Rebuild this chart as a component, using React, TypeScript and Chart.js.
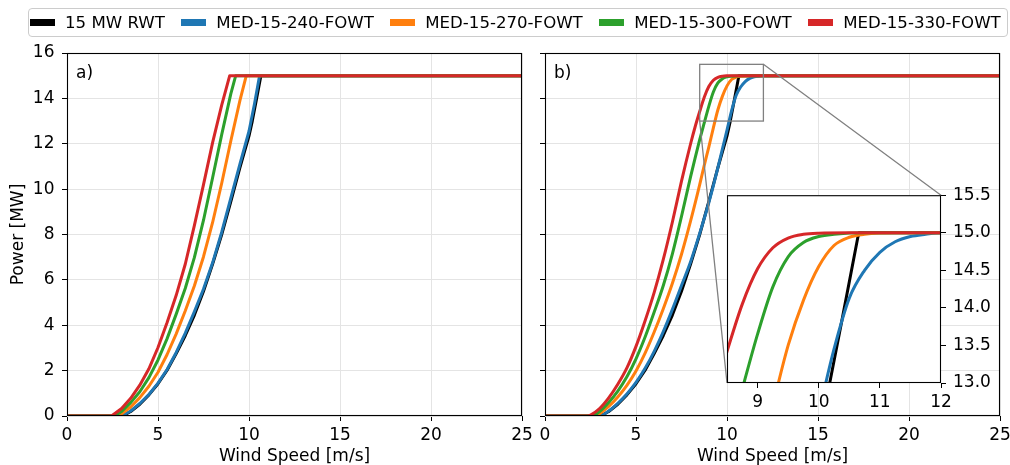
import React, { useEffect, useRef } from 'react';
import { Chart, registerables } from 'chart.js';

Chart.register(...registerables);

// ---------- labels / ticks ----------
const seriesNames = ['15 MW RWT', 'MED-15-240-FOWT', 'MED-15-270-FOWT', 'MED-15-300-FOWT', 'MED-15-330-FOWT'];
const seriesColors = ['#000000', '#1f77b4', '#ff7f0e', '#2ca02c', '#d62728'];
const panelLabels = ['a)', 'b)'];
const xTitle = 'Wind Speed [m/s]';
const yTitle = 'Power [MW]';
const xTicks = [0, 5, 10, 15, 20, 25];
const yTicks = [0, 2, 4, 6, 8, 10, 12, 14, 16];
const insetXTicks = [9, 10, 11, 12];
const insetYTicks = [13.0, 13.5, 14.0, 14.5, 15.0, 15.5];
const insetXRange = [8.5, 12];
const insetYRange = [13, 15.5];

// ---------- 15 MW RWT (both panels) ----------
const windRWT = [0, 3.05, 3.5, 4, 4.5, 5, 5.5, 6, 6.5, 7, 7.5, 8, 8.5, 9, 9.5, 10, 10.18, 10.4, 10.64, 10.66, 25];
const powerRWT = [0, 0, 0.2, 0.52, 0.93, 1.42, 2.02, 2.75, 3.55, 4.45, 5.5, 6.7, 8.0, 9.45, 10.95, 12.35, 13.0, 13.92, 14.94, 15, 15];

// ---------- panel a) ----------
const windA240 = [0, 3.0, 3.5, 4, 4.5, 5, 5.5, 6, 6.5, 7, 7.5, 8, 8.5, 9, 9.5, 10, 10.3, 10.58, 25];
const powerA240 = [0, 0, 0.22, 0.55, 0.95, 1.45, 2.05, 2.8, 3.65, 4.6, 5.6, 6.75, 8.1, 9.6, 11.1, 12.55, 13.75, 15, 15];
const windA270 = [0, 2.8, 3, 3.5, 4, 4.5, 5, 5.5, 6, 6.5, 7, 7.5, 8, 8.5, 9, 9.5, 9.85, 25];
const powerA270 = [0, 0, 0.1, 0.4, 0.81, 1.31, 1.93, 2.71, 3.62, 4.64, 5.74, 7.02, 8.53, 10.26, 12.12, 13.9, 15, 15];
const windA300 = [0, 2.6, 3, 3.5, 4, 4.5, 5, 5.5, 6, 6.5, 7, 7.5, 8, 8.5, 9, 9.27, 25];
const powerA300 = [0, 0, 0.2, 0.59, 1.07, 1.69, 2.47, 3.41, 4.49, 5.63, 6.99, 8.63, 10.5, 12.4, 14.2, 15, 15];
const windA330 = [0, 2.4, 2.5, 3, 3.5, 4, 4.5, 5, 5.5, 6, 6.5, 7, 7.5, 8, 8.5, 8.94, 25];
const powerA330 = [0, 0, 0.03, 0.33, 0.78, 1.36, 2.08, 3.02, 4.12, 5.32, 6.7, 8.4, 10.2, 12.05, 13.7, 15, 15];

// ---------- panel b) ----------
const windB240 = [0, 3, 3.5, 4, 4.5, 5, 5.5, 6, 6.5, 7, 7.5, 8, 8.5, 9, 9.25, 9.5, 9.75, 10, 10.25, 10.5, 10.75, 11, 11.25, 11.5, 11.75, 12, 25];
const powerB240 = [0, 0, 0.22, 0.56, 0.97, 1.48, 2.1, 2.85, 3.72, 4.7, 5.75, 6.8, 8.05, 9.4, 10.15, 10.95, 11.78, 12.6, 13.45, 14.13, 14.5, 14.74, 14.88, 14.95, 14.98, 15, 15];
const windB270 = [0, 2.8, 3, 3.5, 4, 4.5, 5, 5.5, 6, 6.5, 7, 7.5, 8, 8.5, 8.75, 9, 9.25, 9.5, 9.75, 10, 10.25, 10.5, 10.75, 11.25, 25];
const powerB270 = [0, 0, 0.1, 0.42, 0.84, 1.35, 1.98, 2.77, 3.7, 4.73, 5.85, 7.13, 8.6, 10.2, 11.05, 11.85, 12.7, 13.5, 14.1, 14.55, 14.83, 14.94, 14.98, 15, 15];
const windB300 = [0, 2.6, 3, 3.5, 4, 4.5, 5, 5.5, 6, 6.5, 7, 7.5, 8, 8.25, 8.5, 8.75, 9, 9.25, 9.5, 9.75, 10, 10.25, 10.75, 25];
const powerB300 = [0, 0, 0.2, 0.6, 1.1, 1.73, 2.52, 3.48, 4.58, 5.75, 7.15, 8.8, 10.55, 11.38, 12.18, 12.92, 13.65, 14.28, 14.68, 14.87, 14.95, 14.98, 15, 15];
const windB330 = [0, 2.35, 2.5, 3, 3.5, 4, 4.5, 5, 5.5, 6, 6.5, 7, 7.5, 8, 8.25, 8.5, 8.75, 9, 9.25, 9.5, 9.75, 10, 10.5, 25];
const powerB330 = [0, 0, 0.04, 0.33, 0.8, 1.4, 2.12, 3.07, 4.2, 5.45, 6.9, 8.55, 10.35, 12.0, 12.75, 13.42, 14.05, 14.52, 14.8, 14.93, 14.98, 14.995, 15, 15];

const FONT = 'DejaVu Sans';
const FS = 17;
const LEGEND_FS = 16.6;
const GRID = '#e4e4e4';

function buildSets(list: number[][][], smooth: boolean) {
  return list.map(([xs, ys], i) => ({
    label: seriesNames[i],
    data: xs.map((x, k) => ({ x, y: ys[k] })),
    borderColor: seriesColors[i],
    backgroundColor: seriesColors[i],
    borderWidth: 3,
    pointRadius: 0,
    pointHoverRadius: 0,
    fill: false,
    tension: smooth ? 0.4 : 0,
    cubicInterpolationMode: smooth ? 'monotone' : 'default',
    capBezierPoints: false,
    borderJoinStyle: 'round',
    order: 10 - i,
  }));
}

const framePlugin = {
  id: 'frame',
  afterDatasetsDraw(chart: any) {
    const { ctx, chartArea: a } = chart;
    ctx.save();
    ctx.strokeStyle = '#000';
    ctx.lineWidth = 1.1;
    ctx.strokeRect(a.left + 0.5, a.top + 0.5, a.right - a.left - 1, a.bottom - a.top - 1);
    ctx.restore();
  },
};

const panelLabelPlugin = {
  id: 'panelLabel',
  afterDraw(chart: any, _args: any, opts: any) {
    if (!opts || !opts.text) return;
    const { ctx, chartArea: a } = chart;
    ctx.save();
    ctx.fillStyle = '#000';
    ctx.font = `${FS}px "${FONT}"`;
    ctx.textBaseline = 'alphabetic';
    ctx.textAlign = 'left';
    ctx.fillText(opts.text, a.left + 9, a.top + 25);
    ctx.restore();
  },
};

const whiteAreaPlugin = {
  id: 'whiteArea',
  beforeDraw(chart: any) {
    const { ctx, chartArea: a } = chart;
    ctx.save();
    ctx.fillStyle = '#ffffff';
    ctx.fillRect(a.left, a.top, a.right - a.left, a.bottom - a.top);
    ctx.restore();
  },
};

function mainScales(showYLabels: boolean, yWidth: number) {
  return {
    x: {
      type: 'linear',
      min: 0,
      max: 25,
      afterBuildTicks: (s: any) => { s.ticks = xTicks.map((v) => ({ value: v })); },
      afterFit: (s: any) => { s.height = 49; },
      ticks: { padding: 4, autoSkip: false, maxRotation: 0, color: '#000', font: { family: FONT, size: FS }, callback: (v: any) => String(v) },
      grid: { color: GRID, lineWidth: 1, drawTicks: true, tickLength: 5, tickColor: '#000', tickWidth: 1 },
      border: { display: false },
      title: { display: true, text: xTitle, color: '#000', padding: { top: 0, bottom: 0 }, font: { family: FONT, size: FS, lineHeight: 1 } },
    },
    y: {
      type: 'linear',
      min: 0,
      max: 16,
      afterBuildTicks: (s: any) => { s.ticks = yTicks.map((v) => ({ value: v })); },
      afterFit: (s: any) => { s.width = yWidth; },
      ticks: { padding: 7.5, autoSkip: false, color: '#000', font: { family: FONT, size: FS }, callback: (v: any) => (showYLabels ? String(v) : '') },
      grid: { color: GRID, lineWidth: 1, drawTicks: true, tickLength: 5, tickColor: '#000', tickWidth: 1 },
      border: { display: false },
      title: showYLabels
        ? { display: true, text: yTitle, color: '#000', padding: { top: 10, bottom: 0 }, font: { family: FONT, size: FS, lineHeight: 1 } }
        : { display: false },
    },
  };
}

export default function App() {
  const aRef = useRef<HTMLCanvasElement>(null);
  const bRef = useRef<HTMLCanvasElement>(null);
  const cRef = useRef<HTMLCanvasElement>(null);

  useEffect(() => {
    if (!aRef.current || !bRef.current || !cRef.current) return;
    Chart.defaults.font.family = FONT;
    Chart.defaults.font.size = FS;
    Chart.defaults.color = '#000';

    const setsA = buildSets([[windRWT, powerRWT], [windA240, powerA240], [windA270, powerA270], [windA300, powerA300], [windA330, powerA330]], false);
    const setsB = () => buildSets([[windRWT, powerRWT], [windB240, powerB240], [windB270, powerB270], [windB300, powerB300], [windB330, powerB330]], true);
    const fixRWT = (arr: any[]) => { arr[0].tension = 0; arr[0].cubicInterpolationMode = 'default'; return arr; };

    const common = {
      responsive: false,
      animation: false,
      events: [],
      plugins: { legend: { display: false }, tooltip: { enabled: false } },
    };

    const chartA = new Chart(aRef.current, {
      type: 'line',
      data: { datasets: setsA as any },
      options: {
        ...common,
        layout: { padding: { left: 0, top: 53, right: 18, bottom: 0 } },
        scales: mainScales(true, 67) as any,
        plugins: { ...common.plugins, panelLabel: { text: panelLabels[0] } } as any,
      } as any,
      plugins: [framePlugin, panelLabelPlugin],
    });

    const chartC = new Chart(cRef.current, {
      type: 'line',
      data: { datasets: fixRWT(setsB()) as any },
      options: {
        ...common,
        layout: { padding: { left: 12, top: 12, right: 0, bottom: 0 } },
        scales: {
          x: {
            type: 'linear',
            min: insetXRange[0],
            max: insetXRange[1],
            afterBuildTicks: (s: any) => { s.ticks = insetXTicks.map((v) => ({ value: v })); },
            afterFit: (s: any) => { s.height = 35; },
            ticks: { padding: 4, autoSkip: false, maxRotation: 0, color: '#000', font: { family: FONT, size: FS }, callback: (v: any) => String(v) },
            grid: { display: true, drawOnChartArea: false, drawTicks: true, tickLength: 5, tickColor: '#000', tickWidth: 1 },
            border: { display: false },
          },
          y: {
            type: 'linear',
            position: 'right',
            min: insetYRange[0],
            max: insetYRange[1],
            afterBuildTicks: (s: any) => { s.ticks = insetYTicks.map((v) => ({ value: v })); },
            afterFit: (s: any) => { s.width = 64; },
            ticks: { padding: 7, autoSkip: false, color: '#000', font: { family: FONT, size: FS }, callback: (v: any) => Number(v).toFixed(1) },
            grid: { display: true, drawOnChartArea: false, drawTicks: true, tickLength: 5, tickColor: '#000', tickWidth: 1 },
            border: { display: false },
          },
        },
      } as any,
      plugins: [whiteAreaPlugin, framePlugin],
    });

    const zoomPlugin = {
      id: 'zoomMark',
      afterDatasetsDraw(chart: any) {
        const { ctx, scales } = chart;
        const x0 = scales.x.getPixelForValue(insetXRange[0]);
        const x1 = scales.x.getPixelForValue(insetXRange[1]);
        const y0 = scales.y.getPixelForValue(insetYRange[0]);
        const y1 = scales.y.getPixelForValue(insetYRange[1]);
        const rb = chart.canvas.getBoundingClientRect();
        const rc = chartC.canvas.getBoundingClientRect();
        const dx = rc.left - rb.left;
        const dy = rc.top - rb.top;
        const ia = chartC.chartArea;
        ctx.save();
        ctx.strokeStyle = '#808080';
        ctx.lineWidth = 1.3;
        ctx.strokeRect(x0, y1, x1 - x0, y0 - y1);
        ctx.beginPath();
        ctx.moveTo(x1, y1);
        ctx.lineTo(ia.right + dx, ia.top + dy);
        ctx.moveTo(x0, y0);
        ctx.lineTo(ia.left + dx, ia.bottom + dy);
        ctx.stroke();
        ctx.restore();
      },
    };

    const chartB = new Chart(bRef.current, {
      type: 'line',
      data: { datasets: fixRWT(setsB()) as any },
      options: {
        ...common,
        layout: { padding: { left: 0, top: 53, right: 20, bottom: 0 } },
        scales: mainScales(false, 20) as any,
        plugins: { ...common.plugins, panelLabel: { text: panelLabels[1] } } as any,
      } as any,
      plugins: [framePlugin, panelLabelPlugin, zoomPlugin],
    });

    return () => {
      chartA.destroy();
      chartB.destroy();
      chartC.destroy();
    };
  }, []);

  return (
    <div style={{ position: 'fixed', left: 0, top: 0, width: 1010, height: 465, overflow: 'hidden', background: '#fff' }}>
      <canvas ref={aRef} width={540} height={465} style={{ position: 'absolute', left: 0, top: 0 }} />
      <canvas ref={bRef} width={495} height={465} style={{ position: 'absolute', left: 525, top: 0 }} />
      <canvas ref={cRef} width={290} height={240} style={{ position: 'absolute', left: 715, top: 178 }} />
      <div
        style={{
          position: 'absolute', left: 28, top: 8, width: 980, height: 29, boxSizing: 'border-box',
          border: '1px solid #cccccc', borderRadius: 4, display: 'flex', alignItems: 'center',
          paddingLeft: 1, fontFamily: `"${FONT}"`, fontSize: LEGEND_FS, color: '#000', background: 'rgba(255,255,255,0.8)',
          whiteSpace: 'nowrap',
        }}
      >
        {seriesNames.map((n, i) => (
          <div key={n} style={{ display: 'flex', alignItems: 'center', marginRight: 16.5 }}>
            <span style={{ display: 'inline-block', width: 25, height: 7, background: seriesColors[i], marginRight: 10 }} />
            <span>{n}</span>
          </div>
        ))}
      </div>
    </div>
  );
}
